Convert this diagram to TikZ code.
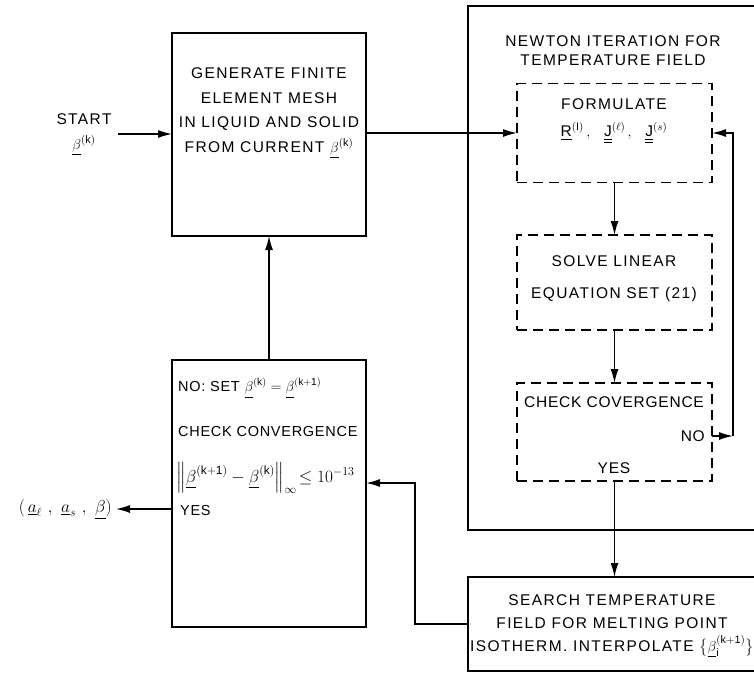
\documentclass[tikz,border=0pt]{standalone}
\usepackage{fontspec}
\setmainfont{Liberation Sans}[LetterSpace=5]
\newfontfamily\widefont{Liberation Sans}[LetterSpace=9]
\usepackage{amsmath}
\usetikzlibrary{arrows.meta}

\newcommand{\ubeta}[1]{\underline{\beta}^{(\mathrm{#1})}}

\tikzset{
  box/.style={draw, line width=1.4pt, inner sep=0pt, outer sep=0pt},
  dbox/.style={draw, line width=1.2pt, dash pattern=on 10pt off 6pt, inner sep=0pt, outer sep=0pt},
  lbl/.style={inner sep=0pt, font=\fontsize{14.5}{18}\selectfont},
  wlbl/.style={inner sep=0pt, align=center, font=\widefont\fontsize{15.5}{#1}\selectfont},
  arr/.style={line width=1.4pt, -{Latex[length=14pt,width=8pt]}}
}

\begin{document}
\begin{tikzpicture}[x=1pt,y=-1pt]

\clip (0,0) rectangle (754,673);

% Mesh generation
\node[box, minimum width=194pt, minimum height=203pt] (mesh) at (269,134.5) {};
\node[wlbl=24.5] (meshtxt) at (269,113)
  {GENERATE FINITE\\ ELEMENT MESH\\ IN LIQUID AND SOLID\\ FROM CURRENT $\ubeta{k}$};

% Start
\node[wlbl=25] (start) at (84,134) {START\\ $\ubeta{k}$};

% Newton iteration
\node[box, minimum width=302pt, minimum height=524pt] (newton) at (619,268) {};
\node[wlbl=19] (newtontxt) at (613,51) {NEWTON ITERATION FOR\\ TEMPERATURE FIELD};

\node[dbox, minimum width=195pt, minimum height=99pt] (form) at (614.5,133) {};
\node[wlbl=27] (formtxt) at (614,121)
  {FORMULATE\\ $\underline{\mathrm{R}}^{(\mathrm{I})}\,,\ \ \underline{\underline{\mathrm{J}}}^{(\ell)}\,,\ \ \underline{\underline{\mathrm{J}}}^{(s)}$};

\node[dbox, minimum width=195pt, minimum height=95pt] (solve) at (614.5,282.5) {};
\node[wlbl=32] (solvetxt) at (614,279) {SOLVE LINEAR\\ EQUATION SET (21)};

\node[dbox, minimum width=195pt, minimum height=98pt] (conv) at (614.5,432) {};
\node[lbl, font=\fontsize{15.5}{18}\selectfont] (convtxt) at (614,402) {CHECK COVERGENCE};
\node[lbl, font=\fontsize{15.5}{18}\selectfont, anchor=east] (no) at (705,436) {NO};
\node[lbl, font=\fontsize{15.5}{18}\selectfont] (yes) at (614,468) {YES};
\coordinate (noend) at (733,436);

% Search for melting point isotherm
\node[box, minimum width=302pt, minimum height=94pt] (search) at (619,624) {};
\node[wlbl=23] (searchtxt) at (612,626)
  {SEARCH TEMPERATURE\\ FIELD FOR MELTING POINT\\ ISOTHERM. INTERPOLATE $\bigl\{\underline{\beta}_{\mathrm{i}}^{(\mathrm{k+1})}\bigr\}$};

% Outer convergence check
\node[box, minimum width=194pt, minimum height=267pt] (chk) at (269,493.5) {};
\node[lbl, anchor=west] (settxt) at (178,388) {NO: SET $\ubeta{k}= \ubeta{k+1}$};
\node[lbl, anchor=west] (chktxt) at (178,431) {CHECK CONVERGENCE};
\node[lbl, anchor=west, font=\fontsize{17}{18}\selectfont] (normtxt) at (176,478)
  {$\Bigl\|\ubeta{k+1}-\ubeta{k}\Bigr\|_\infty\!\le 10^{-13}$};
\node[lbl, anchor=west] (yes2) at (180,510) {YES};
\coordinate (fb) at (415,483);

% Result
\node[lbl, anchor=east, font=\fontsize{17.5}{18}\selectfont] (result) at (112,509)
  {$(\,\underline{a}_\ell\ ,\ \underline{a}_s\ ,\ \underline{\beta})$};

% Connectors
\draw[arr] ([xshift=6pt]start.east) -- (start.east -| mesh.west);
\draw[arr] (form.west -| mesh.east) -- (form.west);
\draw[arr] (form.south) -- (solve.north);
\draw[arr] (solve.south) -- (conv.north);
\draw[arr] (conv.east |- noend) -- (noend);
\draw[arr] (noend) |- (form.east);
\draw[arr] (conv.south) -- (conv.south |- search.north);
\draw[arr] (search.west) -| (fb) -- (fb -| chk.east);
\draw[arr] (chk.north) -- (mesh.south);
\draw[arr] (chk.west |- result) -- ([xshift=4pt]result.east);

\end{tikzpicture}
\end{document}
